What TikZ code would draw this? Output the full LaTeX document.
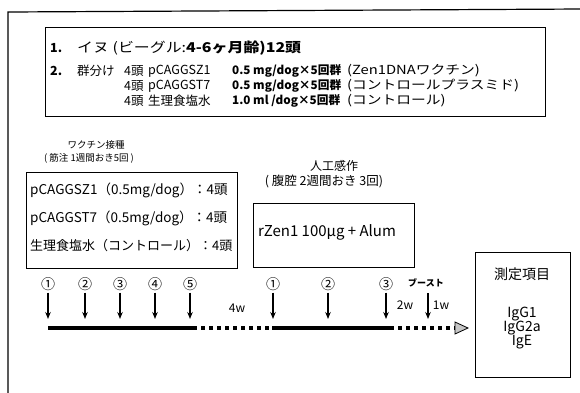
\documentclass[tikz,border=0pt]{standalone}
\usepackage{fontspec}
\setmainfont{Noto Sans CJK JP}
\newfontfamily\jpwide{Noto Sans CJK JP}[FakeStretch=1.18]
\usetikzlibrary{arrows.meta}
\newcommand{\fs}[1]{\fontsize{#1}{#1}\selectfont}
\tikzset{
  box/.style={draw, line width=0.9pt, anchor=north west, inner sep=0pt},
  txt/.style={inner sep=0pt, anchor=west},
  ctxt/.style={inner sep=0pt},
  vac/.style={-{Stealth[length=7pt,width=5.5pt]}, line width=1.2pt},
  tl/.style={line width=4pt},
  tldot/.style={line width=4pt, dash pattern=on 4pt off 4pt},
  toptxt/.style={txt, font=\fs{12.5}},
  cnt/.style={txt, font=\fs{12.5}},
  topbold/.style={txt, font=\fs{11.7}\bfseries},
  note/.style={txt, font=\jpwide\fs{12.5}},
  circ/.style={ctxt, font=\fs{14}},
  wk/.style={ctxt, font=\fs{12}},
}
\begin{document}
\begin{tikzpicture}[x=1pt,y=-1pt,font=\fs{11}]
\useasboundingbox (0,0) rectangle (580,392);
\clip (0,0) rectangle (580,392);
% outer frame
\draw[line width=1.2pt] (8,400) -- (8,12) -- (582,9);

% top box
\node[box, minimum width=500pt, minimum height=89pt] (topbox) at (45,27) {};
\node[txt, font=\fs{12.5}\bfseries] (n1) at (50,48) {1.};
\node[txt, font=\jpwide\fs{13.5}] (l1) at (77,48) {イヌ (ビーグル:\textbf{4-6ヶ月齢)12頭}};
\node[txt, font=\fs{12.5}\bfseries] (n2) at (50,71) {2.};
\node[toptxt] (g0) at (77,71) {群分け};
\node[cnt] (g1a) at (124,71) {4頭};
\node[toptxt] (g1b) at (148,71) {pCAGGSZ1};
\node[topbold] (g1c) at (232,71) {0.5 mg/dog×5回群};
\node[note] (g1d) at (347,71) {(Zen1DNAワクチン)};
\node[cnt] (g2a) at (124,86) {4頭};
\node[toptxt] (g2b) at (148,86) {pCAGGST7};
\node[topbold] (g2c) at (232,86) {0.5 mg/dog×5回群};
\node[note] (g2d) at (347,86) {(コントロールプラスミド)};
\node[cnt] (g3a) at (124,101) {4頭};
\node[toptxt] (g3b) at (148,101) {生理食塩水};
\node[topbold] (g3c) at (232,101) {1.0 ml /dog×5回群};
\node[note] (g3d) at (347,101) {(コントロール)};

% vaccination
\node[ctxt, font=\fs{9.5}] (vl1) at (96,145) {ワクチン接種};
\node[ctxt, font=\fs{9.5}] (vl2) at (89,158) {( 筋注 1週間おき5回 )};
\node[box, minimum width=211pt, minimum height=96pt] (vbox) at (26,172) {};
\node[txt, font=\fs{13.5}] (vt1) at (30,190) {pCAGGSZ1（0.5mg/dog）：4頭};
\node[txt, font=\fs{13.5}] (vt2) at (30,218) {pCAGGST7（0.5mg/dog）：4頭};
\node[txt, font=\fs{13}] (vt3) at (30,246) {生理食塩水（コントロール）：4頭};

% sensitization
\node[ctxt, font=\fs{12}] (sl1) at (334,166) {人工感作};
\node[ctxt, font=\fs{12.5}] (sl2) at (324,181) {( 腹腔 2週間おき 3回)};
\node[box, minimum width=161pt, minimum height=64pt] (sbox) at (253,203) {};
\node[txt, font=\fs{15}] (st) at (258,232) {rZen1 100μg + Alum};

% measurement
\node[box, minimum width=95pt, minimum height=125pt] (mbox) at (475,252) {};
\node[ctxt, font=\fs{14}] (m0) at (522,274) {測定項目};
\node[ctxt, font=\fs{14}] (m1) at (522,314) {IgG1};
\node[ctxt, font=\fs{14}] (m2) at (522,328) {IgG2a};
\node[ctxt, font=\fs{14}] (m3) at (522,342) {IgE};

% timeline
\coordinate (tA) at (48,328);
\coordinate (tB) at (193,328);
\coordinate (tC) at (272,328);
\coordinate (tD) at (390,328);
\coordinate (tE) at (455,328);
\coordinate (aend) at (0,319);
\draw[tl] (tA) -- (tB);
\draw[tldot] (tB) -- (tC);
\draw[tl] (tC) -- (tD);
\draw[tldot] (tD) -- (tE);
\draw[fill=gray!45, line width=0.8pt, line join=miter] (tE) ++(0,-6) -- ++(13,6) -- ++(-13,6) -- cycle;

% vaccination arrows
\node[circ] (v1) at (48,284) {①};
\node[circ] (v2) at (85,284) {②};
\node[circ] (v3) at (120,284) {③};
\node[circ] (v4) at (155,284) {④};
\node[circ] (v5) at (190,284) {⑤};
\foreach \n in {v1,v2,v3,v4,v5}
  \draw[vac] ([yshift=-2pt]\n.south) -- (\n.south |- aend);
\node[wk] (w4) at (237,308) {4w};

% sensitization arrows
\node[circ] (s1) at (273,284) {①};
\node[circ] (s2) at (328,284) {②};
\node[circ] (s3) at (386,284) {③};
\node[ctxt, font=\fs{9}\bfseries] (bo) at (426,283) {ブースト};
\foreach \n in {s1,s2,s3}
  \draw[vac] ([yshift=-2pt]\n.south) -- (\n.south |- aend);
\draw[vac] ([xshift=2pt,yshift=-6pt]bo.south) -- ([xshift=2pt]bo.south |- aend);
\node[wk] (w2) at (405,305) {2w};
\node[wk] (w1) at (441,305) {1w};
\end{tikzpicture}
\end{document}
